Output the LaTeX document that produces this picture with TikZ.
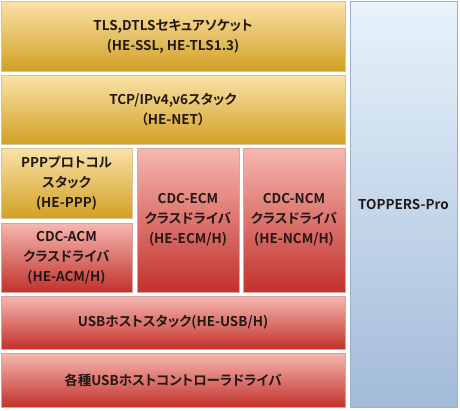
\documentclass[tikz,border=0pt]{standalone}
\usepackage{fontspec}
\setmainfont{Noto Sans CJK JP}[BoldFont={* Bold},RawFeature=+palt]
\usepackage{tikz}

\definecolor{goldtop}{HTML}{FAE2A8}
\definecolor{goldmid}{HTML}{F3D386}
\definecolor{goldbot}{HTML}{D1A025}
\definecolor{redtop}{HTML}{F6B8B0}
\definecolor{redmid}{HTML}{F0A59D}
\definecolor{redbot}{HTML}{C2312C}
\definecolor{bluetop}{HTML}{E8F3FB}
\definecolor{bluebot}{HTML}{A3BBD9}
\definecolor{textdark}{HTML}{231815}

\begin{document}
\begin{tikzpicture}[x=1pt,y=-1pt,
    every node/.style={rectangle,inner sep=0,align=center,text=textdark,
      font=\fontsize{13.5}{20}\selectfont\bfseries},
    goldbox/.style={draw=goldtop!70!gray,line width=0.5pt,top color=goldtop,middle color=goldmid,bottom color=goldbot},
    redbox/.style={draw=redtop!70!gray,line width=0.5pt,top color=redtop,middle color=redmid,bottom color=redbot},
    bluebox/.style={draw=bluebot!80!gray,line width=0.7pt,top color=bluetop,bottom color=bluebot}]
        \useasboundingbox (0,0) rectangle (460,410);
        \node[goldbox,minimum width=344pt,minimum height=70pt] (tls) at (173,36) {TLS,DTLSセキュアソケット\\(HE-SSL, HE-TLS1.3)};
        \node[goldbox,minimum width=344pt,minimum height=69pt] (tcp) at (173,109.5) {TCP/IPv4,v6スタック\\（HE-NET）};
        \node[goldbox,minimum width=131pt,minimum height=70pt] (ppp) at (66.5,183) {PPPプロトコル\\スタック\\(HE-PPP)};
        \node[redbox,minimum width=131pt,minimum height=69pt] (acm) at (66.5,257.5) {CDC-ACM\\クラスドライバ\\(HE-ACM/H)};
        \node[redbox,minimum width=102pt,minimum height=144pt] (ecm) at (188,220) {CDC-ECM\\クラスドライバ\\(HE-ECM/H)};
        \node[redbox,minimum width=102pt,minimum height=144pt] (ncm) at (294,220) {CDC-NCM\\クラスドライバ\\(HE-NCM/H)};
        \node[redbox,minimum width=344pt,minimum height=53pt] (usb) at (173,322.5) {USBホストスタック(HE-USB/H)};
        \node[redbox,minimum width=344pt,minimum height=54pt] (hcd) at (173,380) {各種USBホストコントローラドライバ};
        \node[bluebox,minimum width=107pt,minimum height=406pt] (pro) at (403.5,204) {TOPPERS-Pro};
      \end{tikzpicture}
\end{document}
